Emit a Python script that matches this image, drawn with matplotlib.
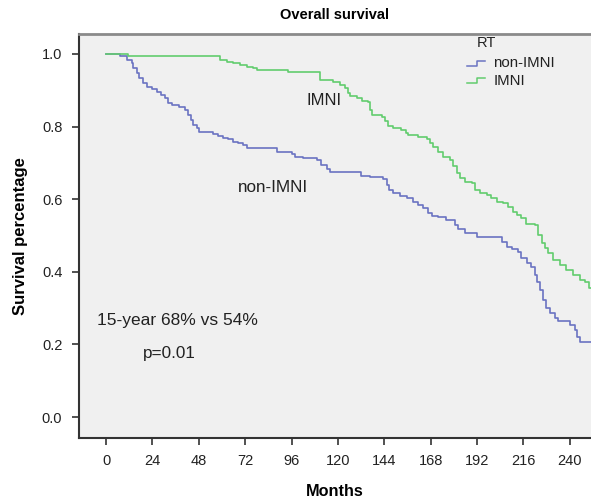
import numpy as np
import matplotlib
matplotlib.use('Agg')
import matplotlib.pyplot as plt

plt.rcParams['font.family'] = ['Liberation Sans', 'DejaVu Sans']

# Kaplan-Meier steps (months, survival after the step)
non_imni_t = [0, 7.2, 10.7, 13.3, 14.1, 15.9, 17.2, 19.0, 21.0, 23.6, 26.2, 28.5,
              30.5, 32.2, 34.0, 37.9, 40.9, 42.6, 43.8, 45.2, 46.9, 48.1, 55.5,
              58.1, 60.7, 63.3, 65.9, 68.4, 71.0, 72.8, 88.3, 96.1, 97.8, 102,
              109, 111.5, 114.2, 115.9, 132.2, 136.6, 143.5, 145.2, 146.4, 148.6,
              152.1, 155.6, 159, 161.6, 164.2, 166.7, 168.5, 171.9, 176.2, 180.5,
              182.3, 185.7, 191.8, 204.7, 207.3, 209.9, 213.3, 215, 218, 220.2,
              221.9, 223.1, 224.5, 226.2, 227.6, 229.7, 232.3, 234, 240, 242.6,
              243.5, 245.2]
non_imni_s = [1.0, .994, .983, .974, .961, .947, .933, .919, .910, .904, .896, .887,
              .878, .864, .860, .855, .846, .832, .818, .804, .795, .784, .779,
              .775, .769, .765, .758, .754, .749, .740, .729, .724, .717, .713,
              .708, .694, .682, .676, .664, .660, .655, .639, .625, .618,
              .609, .602, .593, .584, .575, .563, .554, .550, .543, .529,
              .517, .508, .495, .483, .469, .462, .455, .437, .425, .414,
              .391, .373, .350, .322, .299, .286, .272, .265, .253, .240,
              .221, .206]

imni_t = [0, 11.5, 59, 62.4, 65.9, 69.3, 72.8, 76.2, 77.9, 94.3, 110.7, 117.6,
          121, 123.6, 125.4, 126.2, 129.7, 132.3, 135.7, 136.6, 137.4, 142.6,
          144.3, 146, 148.6, 152.9, 155.5, 156.4, 161.6, 165.9, 167.6, 169.3,
          171.9, 174.5, 178, 179.7, 181.4, 183.1, 185.7, 189.2, 190.9, 193.5,
          197, 199.5, 202.1, 205.5, 208.1, 210.7, 212.5, 215, 217.6, 222,
          223.7, 225.5, 227.1, 228.9, 231.4, 234.9, 238.3, 241.8, 245.2, 247.8, 250]
imni_s = [1.0, .994, .983, .979, .974, .970, .965, .961, .956, .949, .928, .924,
          .915, .906, .892, .884, .878, .871, .869, .846, .832, .827,
          .814, .802, .795, .791, .783, .777, .772, .765, .754, .745,
          .731, .717, .708, .691, .671, .658, .648, .644, .625, .618,
          .612, .602, .593, .589, .578, .566, .556, .547, .533, .529,
          .501, .479, .465, .451, .433, .419, .405, .391, .377, .373, .355]

followup_end = 253
x_ticks = list(range(0, 241, 24))
y_ticks = [0.0, 0.2, 0.4, 0.6, 0.8, 1.0]

blue = '#6a73c2'
green = '#62cc6e'
txt = '#222222'

fig = plt.figure(figsize=(5.91, 4.98), dpi=100)
ax = fig.add_axes([79 / 591, 1 - 437.7 / 498, 1 - 79 / 591, (437.7 - 34) / 498])
ax.set_facecolor('#f0f0f0')

for t, s, c in [(non_imni_t, non_imni_s, blue), (imni_t, imni_s, green)]:
    tt = np.append(t, followup_end)
    ss = np.append(s, s[-1])
    ax.step(tt, ss, where='post', color=c, lw=1.2)

ax.set_xlim(-14, 251)
ax.set_ylim(-0.057, 1.055)
ax.set_xticks(x_ticks)
ax.set_yticks(y_ticks)
ax.set_yticklabels(['%.1f' % v for v in y_ticks])
ax.tick_params(direction='out', length=5, width=1.2, color='#333333',
               labelsize=10.5, labelcolor=txt, pad=7)

for side in ['left', 'bottom']:
    ax.spines[side].set_color('#333333')
    ax.spines[side].set_linewidth(1.5)
ax.spines['top'].set_color('#8a8a8a')
ax.spines['top'].set_linewidth(2)
ax.spines['right'].set_visible(False)

ax.set_title('Overall survival', fontsize=10.5, fontweight='bold', pad=11)
ax.set_xlabel('Months', fontsize=11.7, fontweight='bold', labelpad=11)
ax.set_ylabel('Survival percentage', fontsize=12, fontweight='bold', labelpad=10)

ax.text(113, 0.873, 'IMNI', fontsize=12, color=txt, ha='center', va='center')
ax.text(86.4, 0.631, 'non-IMNI', fontsize=12.3, color=txt, ha='center', va='center')
ax.text(-4.7, 0.267, '15-year 68% vs 54%', fontsize=12.5, color=txt, va='center')
ax.text(19, 0.176, 'p=0.01', fontsize=12.3, color=txt, va='center')

# legend drawn by hand, with step shaped keys
tr = ax.transAxes
ax.text(0.777, 0.978, 'RT', transform=tr, fontsize=10.5, color=txt, va='center')
for y0, label, c in [(0.927, 'non-IMNI', blue), (0.884, 'IMNI', green)]:
    ax.plot([0.758, 0.778, 0.778, 0.793], [y0 - 0.006, y0 - 0.006, y0 + 0.006, y0 + 0.006],
            transform=tr, color=c, lw=1.1, clip_on=False)
    ax.text(0.809, y0, label, transform=tr, fontsize=10.8, color=txt, va='center')

fig.savefig('out.png', dpi=100)
